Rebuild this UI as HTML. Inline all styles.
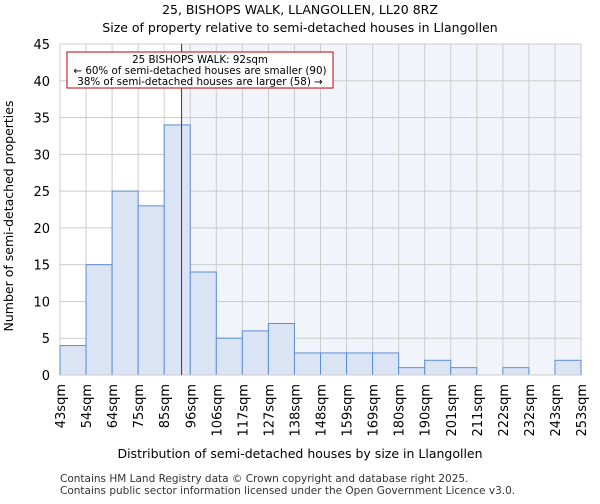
<!DOCTYPE html>
<html><head><meta charset="utf-8"><style>
body{margin:0;background:#fff;font-family:"DejaVu Sans","Liberation Sans",sans-serif}
</style></head><body>
<svg width="600" height="500" id="c" font-family="DejaVu Sans, Liberation Sans, sans-serif">
<text x="300" y="14" text-anchor="middle" font-size="12.5">25, BISHOPS WALK, LLANGOLLEN, LL20 8RZ</text>
<text x="300" y="32" text-anchor="middle" font-size="12.5">Size of property relative to semi-detached houses in Llangollen</text>
<text x="300" y="458" text-anchor="middle" font-size="12.5">Distribution of semi-detached houses by size in Llangollen</text>
<text transform="translate(13,216) rotate(-90)" text-anchor="middle" font-size="12.5">Number of semi-detached properties</text>
<text x="60" y="482" font-size="10.5" fill="#333">Contains HM Land Registry data © Crown copyright and database right 2025.</text>
<text x="60" y="494" font-size="10.5" fill="#333">Contains public sector information licensed under the Open Government Licence v3.0.</text>
<g id="plot"></g>
</svg>
<script>
const categories=["43sqm","54sqm","64sqm","75sqm","85sqm","96sqm","106sqm","117sqm","127sqm","138sqm","148sqm","159sqm","169sqm","180sqm","190sqm","201sqm","211sqm","222sqm","232sqm","243sqm","253sqm"];
const counts=[4,15,25,23,34,14,5,6,7,3,3,3,3,1,2,1,0,1,0,2];
const yTicks=[0,5,10,15,20,25,30,35,40,45];
const markerBin=4.667;
const NS="http://www.w3.org/2000/svg";
const L=60,R=581,T=44,B=375,YMAX=45;
const bw=(R-L)/counts.length;
const x=i=>L+i*bw;
const y=v=>B-(v/YMAX)*(B-T);
const g=document.getElementById('plot');
function mk(t,a){const e=document.createElementNS(NS,t);for(const k in a)e.setAttribute(k,a[k]);g.appendChild(e);return e;}
const mx=x(markerBin);
let e=mk('rect',{x:mx,y:T,width:R-mx,height:B-T,fill:'#f2f4fc'});


yTicks.forEach(t=>{
 let l=mk('line',{x1:L,x2:R,y1:y(t),y2:y(t),stroke:'#ccc'});
 
 
 let tx=mk('text',{x:L-10,y:y(t)+5,'text-anchor':'end','font-size':'13'});
 tx.textContent=t;
 
 
});
categories.forEach((c,i)=>{
 let l=mk('line',{x1:x(i),x2:x(i),y1:T,y2:B,stroke:'#ccc'});
 
 
 let tx=mk('text',{transform:`translate(${x(i)+5},384) rotate(-90)`,'text-anchor':'end','font-size':'13'});
 tx.textContent=c;
 
 
});
counts.forEach((v,i)=>{
 if(v<=0)return;
 let r=mk('rect',{x:x(i),y:y(v),width:bw,height:B-y(v),fill:'#dae4f4',stroke:'#5a8ed6','stroke-width':1});
 
 
});
let ax=mk('line',{x1:L,x2:R,y1:B,y2:B,stroke:'#ccc'});


let ml=mk('line',{x1:mx,x2:mx,y1:T,y2:B,stroke:'#c00000','stroke-width':1});


let bx=mk('rect',{x:67,y:52,width:266,height:36,fill:'#fff',stroke:'#c00000'});


[["25 BISHOPS WALK: 92sqm",63],["← 60% of semi-detached houses are smaller (90)",74],["38% of semi-detached houses are larger (58) →",85]].forEach(([s,yy])=>{
 let t=mk('text',{x:200,y:yy,'text-anchor':'middle','font-size':'10.3'});
 t.textContent=s;
 
 
});
</script>
</body></html>
